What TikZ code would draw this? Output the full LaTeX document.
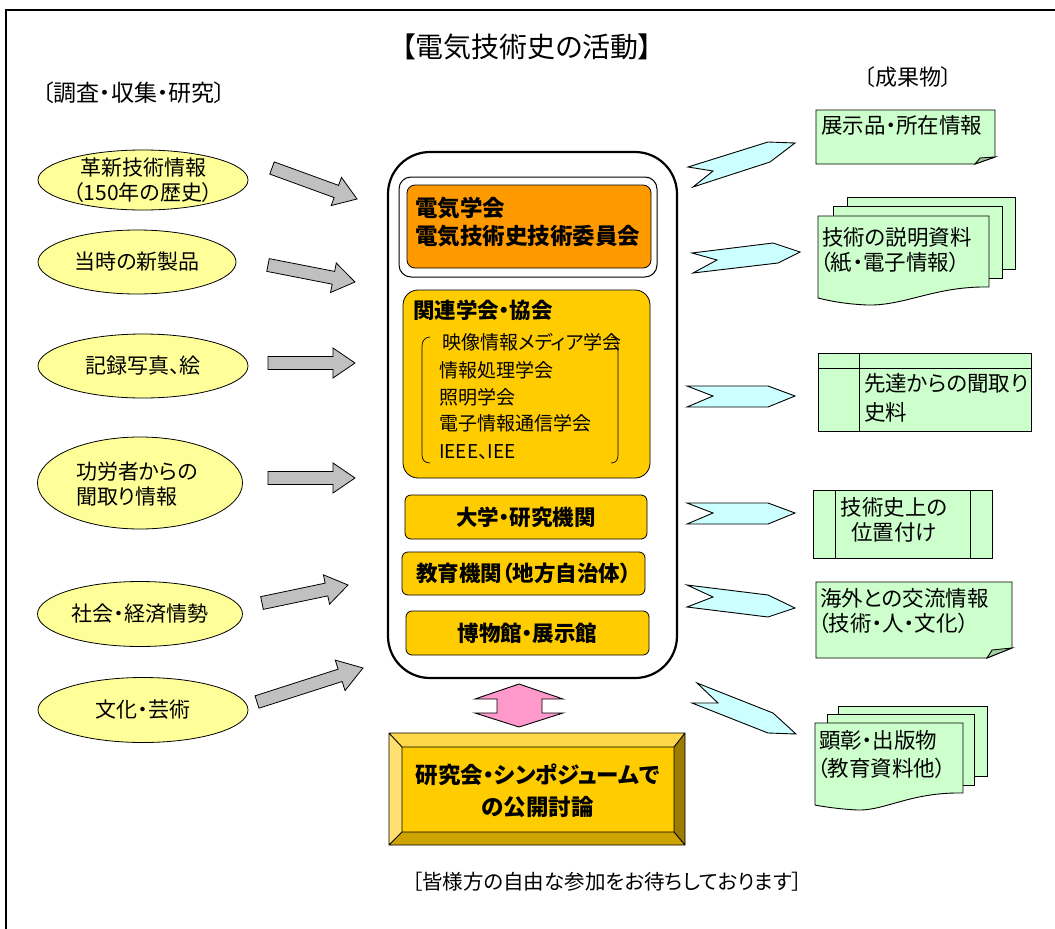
\documentclass[tikz,border=0pt]{standalone}
\usepackage{fontspec}
\setmainfont[RawFeature=+palt]{Noto Sans CJK JP}
\usetikzlibrary{shapes.geometric,calc}
\definecolor{ellfill}{HTML}{FFFF99}
\definecolor{grayfill}{HTML}{C0C0C0}
\definecolor{orangefill}{HTML}{FF9900}
\definecolor{yfill}{HTML}{FFCC00}
\definecolor{pinkfill}{HTML}{FF99CC}
\definecolor{cyanfill}{HTML}{CCFFFF}
\definecolor{docfill}{HTML}{CCFFCC}
\definecolor{foldfill}{HTML}{A3CCA3}
\definecolor{bevtop}{HTML}{FFD84A}
\definecolor{bevleft}{HTML}{FFE070}
\definecolor{bevbot}{HTML}{CCA300}
\definecolor{bevright}{HTML}{9C7C00}
\newcommand\fs[2]{\fontsize{#1}{#2}\selectfont}
% block arrow: [style]{start}{end}{shaft half}{head half}{head length}
\newcommand\blockarr[6][]{%
  \path (#2) coordinate (ba-s) (#3) coordinate (ba-e);
  \path ($(ba-e)!#6!(ba-s)$) coordinate (ba-m);
  \draw[#1] ($(ba-s)!#4!90:(ba-e)$) -- ($(ba-m)!#4!-90:(ba-s)$) -- ($(ba-m)!#5!-90:(ba-s)$)
    -- (ba-e) -- ($(ba-m)!#5!90:(ba-s)$) -- ($(ba-m)!#4!90:(ba-s)$) -- ($(ba-s)!#4!-90:(ba-e)$) -- cycle;}
\begin{document}
\begin{tikzpicture}[x=1pt,y=-1pt,
  every node/.style={inner sep=0pt},
  ell/.style={ellipse, draw, line width=0.8pt, fill=ellfill},
  etext/.style={font=\fs{21}{25}, align=center},
  ybox/.style={draw, line width=0.8pt, fill=yfill, rounded corners=6pt},
  btext/.style={font=\bfseries\fs{21.5}{25}},
  doc/.style={draw, line width=0.9pt, fill=docfill},
  dtext/.style={font=\fs{21.5}{25}, anchor=west},
  cyanarr/.style={draw, line width=0.9pt, fill=cyanfill},
  grayarr/.style={draw, line width=0.8pt, fill=grayfill},
  itext/.style={font=\fs{19}{23}, anchor=west},
]
\useasboundingbox (0,0) rectangle (1055,929);
\fill[white] (0,0) rectangle (1055,929);
% frame
\draw[line width=1.6pt] (1055,10) -- (6,10) -- (6,929);

% headings
\node[font=\fs{28}{32}] (title) at (527,47) {【電気技術史の活動】};
\node[font=\fs{23}{27}] (lhead) at (134,93) {〔調査・収集・研究〕};
\node[font=\fs{22}{26}] (rhead) at (908,77) {〔成果物〕};

% left ellipses
\node[ell, minimum width=210pt, minimum height=60pt] (e1) at (143,180) {};
\node[etext] (e1t) at (e1) {革新技術情報\\（150年の歴史）};
\node[ell, minimum width=198pt, minimum height=64pt] (e2) at (137,262) {};
\node[etext] (e2t) at (e2) {当時の新製品};
\node[ell, minimum width=210pt, minimum height=64pt] (e3) at (143,366) {};
\node[etext] (e3t) at (e3) {記録写真、絵};
\node[ell, minimum width=205pt, minimum height=92pt] (e4) at (140,483) {};
\node[etext, align=left] (e4t) at (137,484) {功労者からの\\聞取り情報};
\node[ell, minimum width=205pt, minimum height=65pt] (e5) at (140,614) {};
\node[etext] (e5t) at (e5) {社会・経済情勢};
\node[ell, minimum width=210pt, minimum height=65pt] (e6) at (143,710) {};
\node[etext] (e6t) at (e6) {文化・芸術};

% gray block arrows
\coordinate (g1s) at (272,168); \coordinate (g1e) at (357,199);
\coordinate (g2s) at (268,265); \coordinate (g2e) at (355,282);
\coordinate (g3s) at (268,363); \coordinate (g3e) at (355,363);
\coordinate (g4s) at (268,478); \coordinate (g4e) at (355,478);
\coordinate (g5s) at (262,603); \coordinate (g5e) at (348,585);
\coordinate (g6s) at (257,702); \coordinate (g6e) at (363,668);
\blockarr[grayarr]{g1s}{g1e}{6.5pt}{15pt}{22pt}
\blockarr[grayarr]{g2s}{g2e}{6.5pt}{15pt}{22pt}
\blockarr[grayarr]{g3s}{g3e}{6.5pt}{15pt}{22pt}
\blockarr[grayarr]{g4s}{g4e}{6.5pt}{15pt}{22pt}
\blockarr[grayarr]{g5s}{g5e}{6.5pt}{15pt}{22pt}
\blockarr[grayarr]{g6s}{g6e}{6.5pt}{16pt}{24pt}

% central box
\node[draw, line width=2.2pt, fill=white, rounded corners=42pt, minimum width=289pt, minimum height=526pt] (centre) at (532.5,415) {};
\node[draw, line width=1pt, fill=white, rounded corners=12pt, minimum width=258pt, minimum height=100pt] (ieewrap) at (528,227) {};
\node[draw, line width=0.8pt, fill=orangefill, rounded corners=8pt, minimum width=244pt, minimum height=83pt] (iee) at (529,226.5) {};
\node[btext, font=\bfseries\fs{22.5}{26}, anchor=west] (iee1) at (415,208) {電気学会};
\node[btext, font=\bfseries\fs{22.5}{26}, anchor=west] (iee2) at (415,236) {電気技術史技術委員会};

\node[ybox, rounded corners=15pt, minimum width=247pt, minimum height=188pt] (kanren) at (526.5,384) {};
\node[btext, anchor=west] (kanrent) at (413,310) {関連学会・協会};
\draw[line width=0.7pt] (430,337) .. controls (425,337) and (422,341) .. (422,346) -- (422,455) .. controls (422,460) and (425,463) .. (430,463);
\draw[line width=0.7pt] (611,337) .. controls (616,337) and (618,341) .. (618,346) -- (618,455) .. controls (618,460) and (616,463) .. (611,463);
\node[itext] (k1) at (442,342) {映像情報メディア学会};
\node[itext] (k2) at (439,370) {情報処理学会};
\node[itext] (k3) at (439,397) {照明学会};
\node[itext] (k4) at (439,423) {電子情報通信学会};
\node[itext] (k5) at (439,452) {IEEE、IEE};

\node[ybox, minimum width=242pt, minimum height=44pt] (univ) at (526,517) {};
\node[btext] (univt) at (univ) {大学・研究機関};
\node[ybox, minimum width=243pt, minimum height=43pt] (edu) at (523.5,573.5) {};
\node[btext] (edut) at (edu) {教育機関（地方自治体）};
\node[ybox, minimum width=243pt, minimum height=44pt] (mus) at (527.5,633) {};
\node[btext] (must) at (mus) {博物館・展示館};

% pink double arrow
\coordinate (pk1) at (519,684); \coordinate (pk2) at (519,727);
\draw[line width=0.9pt, fill=pinkfill] (pk1) -- (563,699) -- (542,699) -- (542,713) -- (563,713) -- (pk2) -- (475,713) -- (497,713) -- (497,699) -- (475,699) -- cycle;

% bevel box
\coordinate (bo1) at (389,733); \coordinate (bo2) at (685,733); \coordinate (bo3) at (685,845); \coordinate (bo4) at (389,845);
\coordinate (bi1) at (402,747); \coordinate (bi2) at (674,747); \coordinate (bi3) at (674,832); \coordinate (bi4) at (402,832);
\fill[bevtop] (bo1) -- (bo2) -- (bi2) -- (bi1) -- cycle;
\fill[bevright] (bo2) -- (bo3) -- (bi3) -- (bi2) -- cycle;
\fill[bevbot] (bo3) -- (bo4) -- (bi4) -- (bi3) -- cycle;
\fill[bevleft] (bo4) -- (bo1) -- (bi1) -- (bi4) -- cycle;
\fill[yfill] (bi1) rectangle (bi3);
\draw[line width=0.9pt] (bo1) rectangle (bo3) (bi1) rectangle (bi3)
  (bo1) -- (bi1) (bo2) -- (bi2) (bo3) -- (bi3) (bo4) -- (bi4);
\node[font=\bfseries\fs{22.5}{32}, align=center] (symp) at (537.5,791) {研究会・シンポジュームで\\の公開討論};

\node[font=\fs{20.5}{24}] (invite) at (607,882) {［皆様方の自由な参加をお待ちしております］};

% cyan chevron arrows
\draw[cyanarr] (688,167) -- (768,142) -- (795,143) -- (770,162) -- (693,187) -- (713,171) -- cycle;
\draw[cyanarr] (692,253) -- (773,243) -- (800,252) -- (778,263) -- (693,273) -- (717,260) -- cycle;
\draw[cyanarr] (687,386) -- (768,386) -- (795,396) -- (768,407) -- (687,407) -- (713,396) -- cycle;
\draw[cyanarr] (687,503) -- (768,503) -- (795,513) -- (768,524) -- (687,524) -- (713,513) -- cycle;
\draw[cyanarr] (687,585) -- (768,595) -- (795,608) -- (768,617) -- (687,607) -- (713,597) -- cycle;
\draw[cyanarr] (697,683) -- (773,713) -- (796,734) -- (768,733) -- (692,703) -- (718,703) -- cycle;

% doc 1
\draw[doc] (816,110) -- (995,110) -- (995,157) -- (975,164) -- (816,164) -- cycle;
\draw[line width=0.9pt, fill=foldfill] (975,164) -- (980,158) -- (995,157) -- cycle;
\node[dtext] (d1) at (821,125) {展示品・所在情報};

% doc 2 (multi)
\draw[doc] (847,197) rectangle (1015,269);
\draw[doc] (833,206) rectangle (1002,278);
\draw[doc] (818,216) -- (989,216) -- (989,287) .. controls (935,286) and (905,306) .. (867,305) .. controls (845,304) and (830,301) .. (818,298) -- cycle;
\node[dtext] (d2a) at (822,237) {技術の説明資料};
\node[dtext] (d2b) at (820,262) {（紙・電子情報）};

% doc 3
\draw[doc] (818,353) rectangle (1031,431);
\draw[line width=0.9pt] (818,368) -- (1031,368) (859,353) -- (859,431);
\node[dtext] (d3a) at (864,383) {先達からの聞取り};
\node[dtext] (d3b) at (864,412) {史料};

% doc 4
\draw[doc] (813,490) rectangle (992,558);
\draw[line width=0.9pt] (835,490) -- (835,558) (970,490) -- (970,558);
\node[font=\fs{21.5}{25}, align=center] (d4) at (894,520) {技術史上の\\位置付け};

% doc 5
\draw[doc] (816,582) -- (1012,582) -- (1012,648) -- (987,658) -- (816,658) -- cycle;
\draw[line width=0.9pt, fill=foldfill] (987,658) -- (992,650) -- (1012,648) -- cycle;
\node[dtext] (d5a) at (820,598) {海外との交流情報};
\node[dtext] (d5b) at (818,623) {（技術・人・文化）};

% doc 6 (multi)
\draw[doc] (838,706) rectangle (987,776);
\draw[doc] (827,714) rectangle (974,785);
\draw[doc] (815,723) -- (963,723) -- (963,793) .. controls (910,792) and (885,811) .. (857,810) .. controls (840,809) and (825,807) .. (815,805) -- cycle;
\node[dtext] (d6a) at (819,740) {顕彰・出版物};
\node[dtext] (d6b) at (817,768) {（教育資料他）};
\end{tikzpicture}
\end{document}
